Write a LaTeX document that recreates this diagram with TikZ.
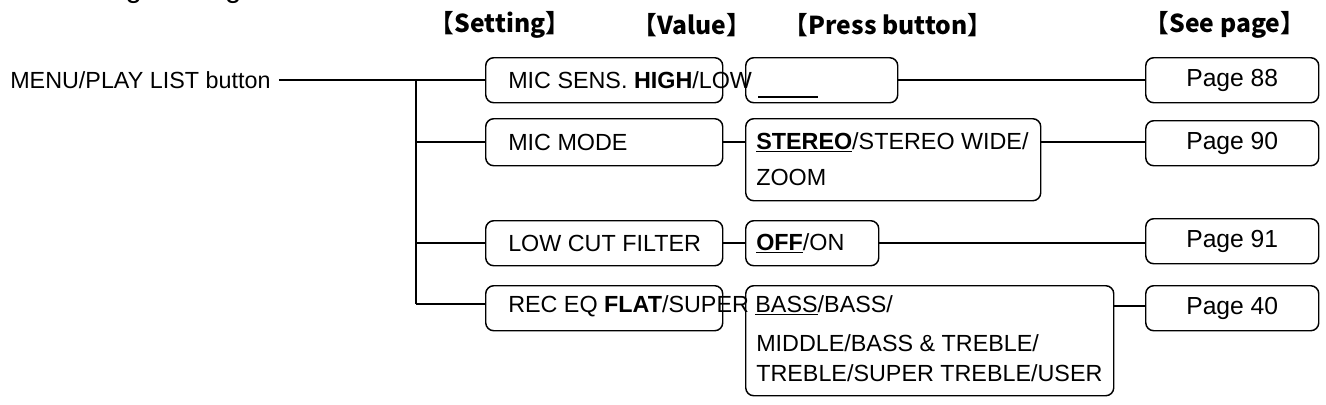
\documentclass[tikz,border=0pt]{standalone}
\usepackage{fontspec}
\setmainfont{Liberation Sans}
\newfontfamily\cjk{Noto Sans CJK JP}
\begin{document}
\begin{tikzpicture}[x=0.75pt,y=-0.75pt,
  box/.style={draw,line width=1.1pt,rounded corners=6pt,inner sep=0,anchor=north west},
  txt/.style={inner sep=0,anchor=west,font=\fontsize{17.5}{21}\selectfont},
  hdr/.style={inner sep=0,font=\cjk\bfseries\fontsize{18.5}{22}\selectfont},
  pg/.style={font=\fontsize{18.5}{22}\selectfont},
  ln/.style={line width=1pt},
  thk/.style={line width=2pt}]
\useasboundingbox (0,0) rectangle (1326,404);
% title cut at the top
\node[inner sep=0,anchor=base west,font=\fontsize{22}{26}\selectfont] (title) at (8,-3) {Recording Settings};
% headers
\node[hdr] (h1) at (500,25) {【Setting】};
\node[hdr] (h2) at (692,25) {【Value】};
\node[hdr] (h3) at (888,25) {【Press button】};
\node[hdr] (h4) at (1225,25) {【See page】};
% left label
\node[txt] (menu) at (10,80) {MENU/PLAY LIST button};
\coordinate (tTop) at (416,79);
\coordinate (t2) at (416,142);
\coordinate (t3) at (416,243);
\coordinate (t4) at (416,304);
% setting boxes
\node[box,minimum width=237*0.75pt,minimum height=45*0.75pt] (s1) at (485,57) {};
\node[box,minimum width=237*0.75pt,minimum height=47*0.75pt] (s2) at (485,118) {};
\node[box,minimum width=237*0.75pt,minimum height=45*0.75pt] (s3) at (485,220) {};
\node[box,minimum width=237*0.75pt,minimum height=45*0.75pt] (s4) at (485,285) {};
% press boxes
\node[box,minimum width=152*0.75pt,minimum height=45*0.75pt] (p1) at (745,57) {};
\node[box,minimum width=295*0.75pt,minimum height=82*0.75pt] (p2) at (745,118) {};
\node[box,minimum width=133*0.75pt,minimum height=45*0.75pt] (p3) at (745,220) {};
\node[box,minimum width=368*0.75pt,minimum height=110*0.75pt] (p4) at (745,285) {};
% page boxes
\node[box,minimum width=173*0.75pt,minimum height=45*0.75pt,pg] (g1) at (1145,57) {Page 88};
\node[box,minimum width=173*0.75pt,minimum height=45*0.75pt,pg] (g2) at (1145,120) {Page 90};
\node[box,minimum width=173*0.75pt,minimum height=45*0.75pt,pg] (g3) at (1145,218) {Page 91};
\node[box,minimum width=173*0.75pt,minimum height=45*0.75pt,pg] (g4) at (1145,285) {Page 40};
% texts
\node[txt] (x1) at (508,80) {MIC SENS. \textbf{HIGH}/LOW};
\node[txt] (x2) at (508,142) {MIC MODE};
\node[txt] (x3) at (508,243) {LOW CUT FILTER};
\node[txt] (x4) at (508,306) {REC EQ \textbf{FLAT}/SUPER \underline{BASS}/BASS/};
\node[txt] (y2a) at (756,142) {\underline{\textbf{STEREO}}/STEREO WIDE/};
\node[txt] (y2b) at (756,177) {ZOOM};
\node[txt] (y3) at (756,243) {\underline{\textbf{OFF}}/ON};
\node[txt] (y4b) at (756,343) {MIDDLE/BASS \& TREBLE/};
\node[txt] (y4c) at (756,373) {TREBLE/SUPER TREBLE/USER};
\coordinate (u1) at (758,97);
\coordinate (u2) at (818,97);
\draw[ln] (u1) -- (u2);
% connectors
\draw[ln] (menu.east) ++(8,0) coordinate (m0) -- (s1.west|-m0);
\draw[thk] (tTop) -- (t4);
\draw[thk] (t2) -- (s2.west|-t2);
\draw[ln] (t3) -- (s3.west|-t3);
\draw[ln] (t4) -- (s4.west|-t4);
\draw[ln] (p1.east|-m0) -- (g1.west|-m0);
\draw[thk] (s2.east|-t2) -- (p2.west|-t2);
\draw[thk] (p2.east|-t2) -- (g2.west|-t2);
\draw[ln] (s3.east|-t3) -- (p3.west|-t3);
\draw[ln] (p3.east|-t3) -- (g3.west|-t3);
\coordinate (r4) at (1113,306);
\draw[ln] (r4) -- (g4.west|-r4);
\end{tikzpicture}
\end{document}
